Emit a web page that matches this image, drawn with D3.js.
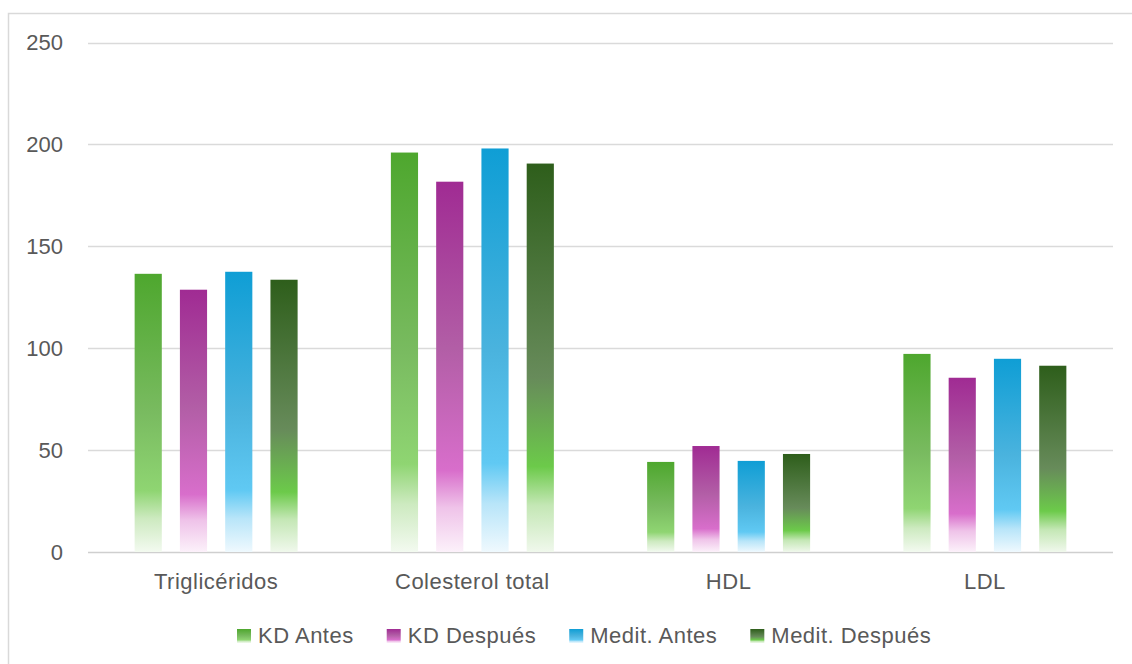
<!DOCTYPE html>
<html>
<head>
<meta charset="utf-8">
<script src="https://cdn.jsdelivr.net/npm/d3@7"></script>
<style>
  body { margin: 0; background: #fff; }
  svg { display: block; font-family: "Liberation Sans", Arial, sans-serif; }
  .tick-label, .cat-label, .legend-label { fill: #595959; font-size: 22px; }
  .cat-label, .legend-label { letter-spacing: 0.5px; }
</style>
</head>
<body>
<svg id="chart" width="1132" height="664"></svg>
<script>
// data
const categories = ["Triglicéridos", "Colesterol total", "HDL", "LDL"];
const seriesNames = ["KD Antes", "KD Después", "Medit. Antes", "Medit. Después"];
const kdAntes = [136.5, 196, 44.2, 97.2];
const kdDespues = [128.7, 181.7, 52, 85.5];
const meditAntes = [137.5, 198, 44.7, 94.8];
const meditDespues = [133.6, 190.6, 48.1, 91.4];
const yTicks = [0, 50, 100, 150, 200, 250];

const seriesValues = [kdAntes, kdDespues, meditAntes, meditDespues];

// gradient stops per series (offset, colour)
const gradients = [
    [[0, "#4ea72e"], [0.5, "#79bb60"], [0.78, "#8fd572"], [0.88, "#cdeac0"], [1, "#f3faf0"]],
    [[0, "#a02b93"], [0.45, "#b25ea6"], [0.78, "#d86ecb"], [0.88, "#efc3e9"], [1, "#fcf1fa"]],
    [[0, "#0f9ed5"], [0.5, "#4ab3de"], [0.78, "#60c9f3"], [0.88, "#b8e5f9"], [1, "#eff9fe"]],
    [[0, "#2e5e1b"], [0.55, "#678b5a"], [0.78, "#6cca4a"], [0.88, "#c4e7b5"], [1, "#f0f8ec"]]
];

const svg = d3.select("#chart");

// chart border
svg.append("rect")
    .attr("x", 8.5)
    .attr("y", 13.5)
    .attr("width", 1140)
    .attr("height", 670)
    .attr("fill", "#fff")
    .attr("stroke", "#d9d9d9")
    .attr("stroke-width", 1.5);

const defs = svg.append("defs");
gradients.forEach((stops, i) => {
    const g = defs.append("linearGradient")
        .attr("id", `grad${i}`)
        .attr("x1", 0).attr("y1", 0)
        .attr("x2", 0).attr("y2", 1);
    stops.forEach(([o, c]) => {
        g.append("stop").attr("offset", o).attr("stop-color", c);
    });
});

const left = 88, right = 1113;
const yScale = d3.scaleLinear().domain([0, 250]).range([552, 42.5]);
const xScale = d3.scaleBand().domain(categories).range([left, right])
    .paddingInner(0.364).paddingOuter(0.182);
const xInner = d3.scaleBand().domain(d3.range(4)).range([0, xScale.bandwidth()])
    .paddingInner(0.4);

// grid lines
svg.append("g")
    .selectAll("line")
    .data(yTicks)
    .join("line")
    .attr("x1", left)
    .attr("x2", right)
    .attr("y1", d => Math.round(yScale(d)) + 0.5)
    .attr("y2", d => Math.round(yScale(d)) + 0.5)
    .attr("stroke", d => d === 0 ? "#cfcfcf" : "#dadada")
    .attr("stroke-width", d => d === 0 ? 1.6 : 1.3);

// tick labels
svg.append("g")
    .selectAll("text")
    .data(yTicks)
    .join("text")
    .attr("class", "tick-label")
    .attr("x", 63)
    .attr("y", d => yScale(d))
    .attr("dy", "0.36em")
    .attr("text-anchor", "end")
    .text(d => d);

// bars
const groups = svg.append("g")
    .selectAll("g")
    .data(categories)
    .join("g")
    .attr("transform", d => `translate(${xScale(d)},0)`);

groups.selectAll("rect")
    .data((d, ci) => seriesValues.map((vals, si) => ({ si, v: vals[ci] })))
    .join("rect")
    .attr("x", d => xInner(d.si))
    .attr("width", xInner.bandwidth())
    .attr("y", d => yScale(d.v))
    .attr("height", d => yScale(0) - yScale(d.v))
    .attr("fill", d => `url(#grad${d.si})`);

// category labels
svg.append("g")
    .selectAll("text")
    .data(categories)
    .join("text")
    .attr("class", "cat-label")
    .attr("x", d => xScale(d) + xScale.bandwidth() / 2)
    .attr("y", 589)
    .attr("text-anchor", "middle")
    .text(d => d);

// legend
const legend = svg.append("g");
let lx = 237;
seriesNames.forEach((name, i) => {
    const item = legend.append("g").attr("transform", `translate(${lx},0)`);
    item.append("rect")
        .attr("x", 0)
        .attr("y", 629)
        .attr("width", 14)
        .attr("height", 14)
        .attr("fill", `url(#grad${i})`);
    const t = item.append("text")
        .attr("class", "legend-label")
        .attr("x", 21)
        .attr("y", 643)
        .text(name);
    lx += 21 + t.node().getComputedTextLength() + 33;
});
</script>
</body>
</html>
